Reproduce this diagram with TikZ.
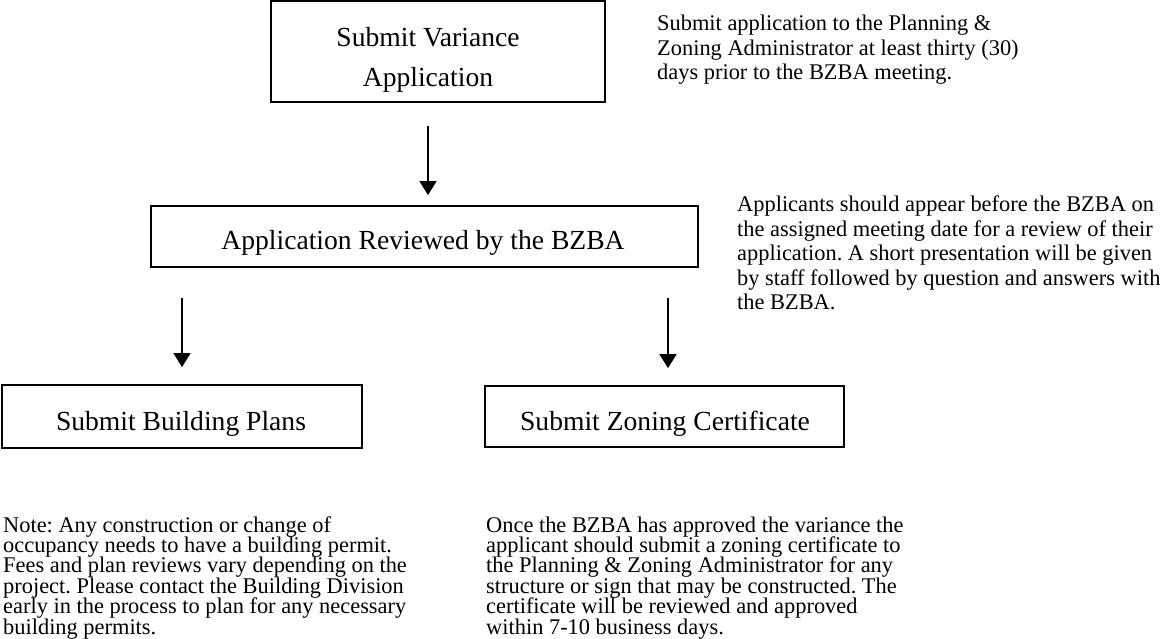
\documentclass[tikz,border=0pt]{standalone}
\usepackage{fontspec}
\setmainfont{Liberation Serif}
\usetikzlibrary{arrows.meta}
\frenchspacing

% stacked left-aligned lines, baseline = first line, fixed line pitch #1
\newcommand\stacklines[2]{{\fontsize{22.4}{#1}\selectfont\lineskiplimit=-100pt
  \vtop{\halign{##\hfil\cr#2\crcr}}}}

\begin{document}
\begin{tikzpicture}[x=1pt,y=-1pt,
  stepbox/.style={draw, line width=1.8pt, inner sep=0pt},
  boxtext/.style={anchor=base, inner sep=0pt, font=\fontsize{27.6}{40}\selectfont},
  note/.style={anchor=base west, inner sep=0pt},
  flow/.style={line width=1.6pt, -{Triangle[width=17pt,length=14pt]}}
]
\useasboundingbox (0,0) rectangle (1173,639);

% boxes
\node[stepbox, minimum width=334pt, minimum height=101pt] (b1) at (438,51.5) {};
\node[stepbox, minimum width=547pt, minimum height=61pt] (b2) at (424.5,236.5) {};
\node[stepbox, minimum width=360pt, minimum height=63pt] (b3) at (182,416.5) {};
\node[stepbox, minimum width=359pt, minimum height=61pt] (b4) at (664.5,416.5) {};

% box labels
\node[boxtext] (t1a) at (428,47) {Submit Variance};
\node[boxtext] (t1b) at (428,87) {Application};
\node[boxtext] (t2) at (423,250) {Application Reviewed by the BZBA};
\node[boxtext] (t3) at (181,430) {Submit Building Plans};
\node[boxtext] (t4) at (665,430) {Submit Zoning Certificate};

% arrows
\draw[flow, shorten <=23pt, shorten >=10pt] (b1.south -| t1a) -- (b2.north -| t1a);
\draw[flow, shorten <=30pt, shorten >=17pt] (b2.south -| b3.north) -- (b3.north);
\draw[flow, shorten <=30pt, shorten >=17pt] ([xshift=3.5pt]b2.south -| b4.north) -- ([xshift=3.5pt]b4.north);

% explanatory notes
\node[note] (n1) at (657,31) {\stacklines{24.5pt}{%
Submit application to the Planning \&\cr
Zoning Administrator at least thirty (30)\cr
days prior to the BZBA meeting.}};
\node[note] (n2) at (737,212) {\stacklines{24.5pt}{%
Applicants should appear before the BZBA on\cr
the assigned meeting date for a review of their\cr
application. A short presentation will be given\cr
by staff followed by question and answers with\cr
the BZBA.}};
\node[note] (n3) at (3,532) {\stacklines{20.4pt}{%
Note: Any construction or change of\cr
occupancy needs to have a building permit.\cr
Fees and plan reviews vary depending on the\cr
project. Please contact the Building Division\cr
early in the process to plan for any necessary\cr
building permits.}};
\node[note] (n4) at (486,532) {\stacklines{20.4pt}{%
Once the BZBA has approved the variance the\cr
applicant should submit a zoning certificate to\cr
the Planning \& Zoning Administrator for any\cr
structure or sign that may be constructed. The\cr
certificate will be reviewed and approved\cr
within 7-10 business days.}};
\end{tikzpicture}
\end{document}
